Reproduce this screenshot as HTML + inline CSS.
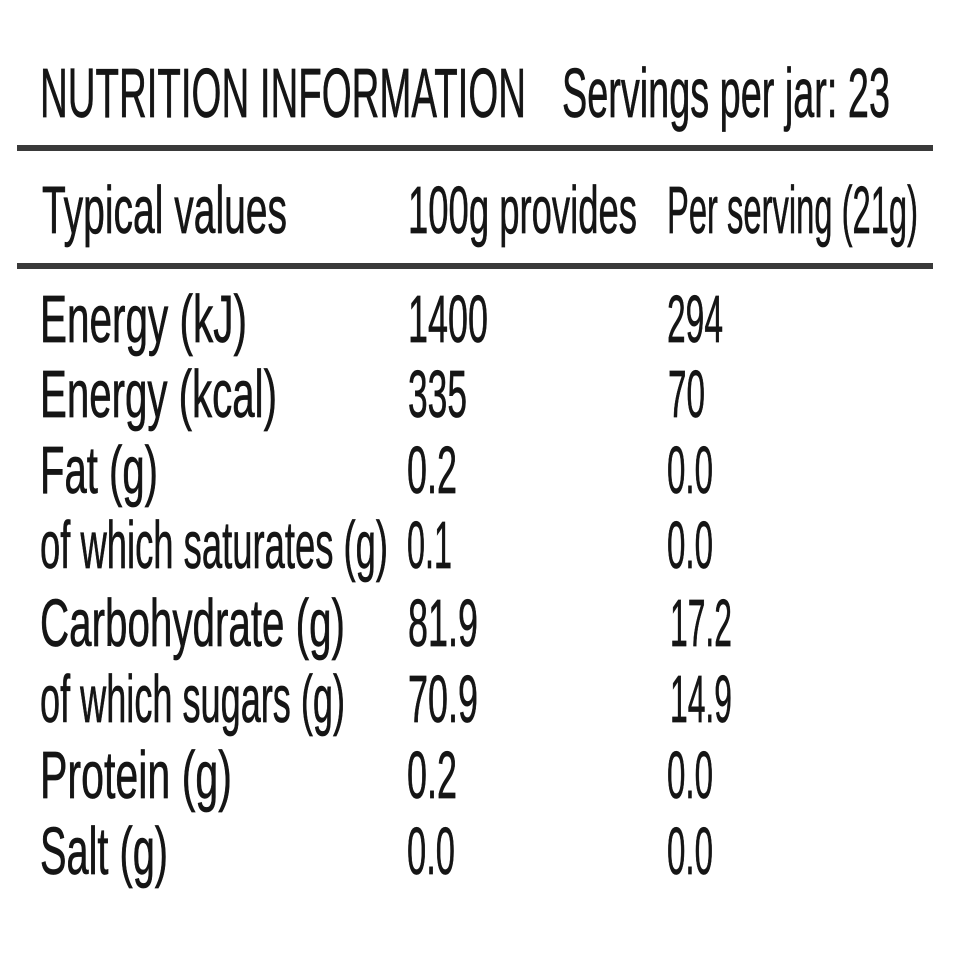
<!DOCTYPE html>
<html>
<head>
<meta charset="utf-8">
<style>
  html,body{margin:0;padding:0;background:#fff;}
  svg{display:block;}
  text{font-family:"Liberation Sans",Arial,sans-serif;fill:#151515;stroke:#151515;stroke-width:0.7px;}
</style>
</head>
<body>
<svg width="960" height="960" viewBox="0 0 960 960" xmlns="http://www.w3.org/2000/svg">
  <rect x="0" y="0" width="960" height="960" fill="#ffffff"/>

  <!-- Header -->
  <text x="40" y="117" font-size="70" textLength="486" lengthAdjust="spacingAndGlyphs">NUTRITION INFORMATION</text>
  <text x="562" y="117" font-size="70" textLength="328" lengthAdjust="spacingAndGlyphs">Servings per jar: 23</text>

  <rect x="17" y="145" width="916" height="6" fill="#3a3a3a"/>

  <!-- Column headings -->
  <text x="42" y="233" font-size="67" textLength="245" lengthAdjust="spacingAndGlyphs">Typical values</text>
  <text x="408" y="233" font-size="67" textLength="229" lengthAdjust="spacingAndGlyphs">100g provides</text>
  <text x="667" y="233" font-size="67" textLength="251" lengthAdjust="spacingAndGlyphs">Per serving (21g)</text>

  <rect x="17" y="263" width="916" height="6" fill="#3a3a3a"/>

  <!-- Rows -->
  <g font-size="67">
    <text x="40" y="342" textLength="207" lengthAdjust="spacingAndGlyphs">Energy (kJ)</text>
    <text x="408" y="342" textLength="80" lengthAdjust="spacingAndGlyphs">1400</text>
    <text x="667" y="342" textLength="56" lengthAdjust="spacingAndGlyphs">294</text>

    <text x="40" y="417" textLength="237" lengthAdjust="spacingAndGlyphs">Energy (kcal)</text>
    <text x="408" y="417" textLength="59" lengthAdjust="spacingAndGlyphs">335</text>
    <text x="668" y="417" textLength="37" lengthAdjust="spacingAndGlyphs">70</text>

    <text x="40" y="493" textLength="118" lengthAdjust="spacingAndGlyphs">Fat (g)</text>
    <text x="407" y="493" textLength="50" lengthAdjust="spacingAndGlyphs">0.2</text>
    <text x="667" y="493" textLength="46" lengthAdjust="spacingAndGlyphs">0.0</text>

    <text x="40" y="568" textLength="348" lengthAdjust="spacingAndGlyphs">of which saturates (g)</text>
    <text x="407" y="568" textLength="45" lengthAdjust="spacingAndGlyphs">0.1</text>
    <text x="667" y="568" textLength="46" lengthAdjust="spacingAndGlyphs">0.0</text>

    <text x="40" y="646" textLength="305" lengthAdjust="spacingAndGlyphs">Carbohydrate (g)</text>
    <text x="408" y="646" textLength="70" lengthAdjust="spacingAndGlyphs">81.9</text>
    <text x="670" y="646" textLength="62" lengthAdjust="spacingAndGlyphs">17.2</text>

    <text x="40" y="722" textLength="305" lengthAdjust="spacingAndGlyphs">of which sugars (g)</text>
    <text x="408" y="722" textLength="70" lengthAdjust="spacingAndGlyphs">70.9</text>
    <text x="670" y="722" textLength="62" lengthAdjust="spacingAndGlyphs">14.9</text>

    <text x="40" y="798" textLength="192" lengthAdjust="spacingAndGlyphs">Protein (g)</text>
    <text x="407" y="798" textLength="50" lengthAdjust="spacingAndGlyphs">0.2</text>
    <text x="667" y="798" textLength="46" lengthAdjust="spacingAndGlyphs">0.0</text>

    <text x="40" y="874" textLength="128" lengthAdjust="spacingAndGlyphs">Salt (g)</text>
    <text x="407" y="874" textLength="48" lengthAdjust="spacingAndGlyphs">0.0</text>
    <text x="667" y="874" textLength="46" lengthAdjust="spacingAndGlyphs">0.0</text>
  </g>
</svg>
</body>
</html>
